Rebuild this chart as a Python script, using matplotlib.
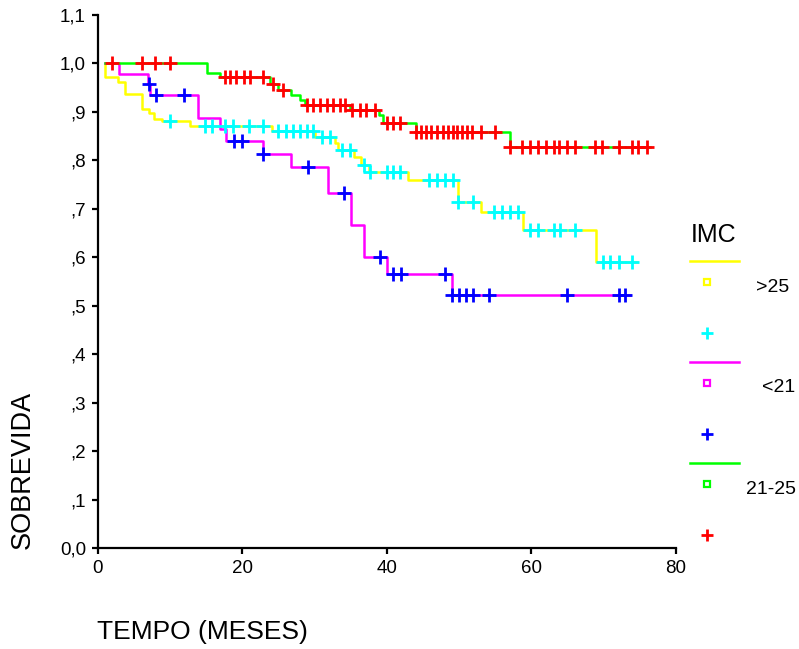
import matplotlib
matplotlib.use("Agg")
import matplotlib.pyplot as plt
import numpy as np

plt.rcParams['font.family'] = ['Liberation Sans', 'DejaVu Sans']

# IMC > 25 : event times / survival after each event, censored times
gt25_event_t = [1.0, 2.8, 3.8, 6.1, 7.1, 7.8, 8.9, 12.8, 24.1, 30.1, 32.8, 33.3,
                35.5, 36.5, 37.5, 43.0, 49.9, 53.0, 58.8, 69.0]
gt25_event_s = [0.973, 0.961, 0.936, 0.907, 0.898, 0.886, 0.882, 0.871, 0.861, 0.849,
                0.835, 0.821, 0.806, 0.790, 0.775, 0.760, 0.715, 0.694, 0.656, 0.591]
gt25_censor = [10.0, 14.9, 15.8, 17.6, 18.7, 21.0, 22.9, 25.0, 26.1, 27.0, 28.0, 29.0,
               29.8, 31.0, 32.2, 33.8, 34.9, 36.8, 37.7, 40.0, 40.9, 41.8, 45.8, 46.9,
               48.1, 49.2, 49.9, 52.0, 54.8, 55.9, 57.1, 58.2, 59.8, 61.0, 63.1, 64.0,
               66.1, 70.0, 70.9, 72.1, 73.9]
gt25_span = (1.0, 74.6)

# IMC < 21
lt21_event_t = [2.9, 7.0, 7.3, 13.9, 16.9, 17.8, 22.9, 26.8, 31.9, 35.1, 36.9, 40.1, 49.1]
lt21_event_s = [0.978, 0.957, 0.935, 0.887, 0.865, 0.839, 0.813, 0.786, 0.732, 0.667,
                0.601, 0.566, 0.522]
lt21_censor = [7.1, 8.0, 11.9, 18.9, 20.0, 22.9, 29.1, 34.1, 39.1, 40.9, 42.0, 48.1,
               49.1, 50.0, 51.0, 51.9, 54.2, 65.0, 72.1, 73.0]
lt21_span = (1.0, 73.7)

# IMC 21-25
mid_event_t = [15.1, 16.9, 23.8, 25.0, 26.8, 28.0, 28.7, 34.9, 39.0, 39.5, 44.1, 57.1]
mid_event_s = [0.981, 0.973, 0.957, 0.945, 0.935, 0.925, 0.914, 0.904, 0.894, 0.877,
               0.859, 0.828]
mid_censor = [2.0, 6.1, 7.9, 10.0, 17.6, 18.3, 19.2, 20.2, 21.1, 22.9, 24.2, 25.6,
              28.9, 29.8, 30.8, 31.7, 32.6, 33.5, 34.2, 35.2, 36.3, 37.2, 38.4, 40.0,
              40.9, 41.8, 44.1, 44.8, 45.5, 46.2, 46.9, 47.8, 48.5, 49.2, 49.7, 50.4,
              51.1, 51.8, 53.1, 55.0, 57.1, 58.7, 59.9, 61.0, 62.1, 63.1, 63.9, 64.9,
              66.1, 68.8, 69.8, 72.1, 73.9, 74.8, 76.0]
mid_span = (1.0, 76.5)

group_labels = ['>25', '<21', '21-25']
line_colors = ['#ffff00', '#ff00ff', '#00ff00']
mark_colors = ['#00ffff', '#0000ff', '#ff0000']

y_ticks = [0.0, 0.1, 0.2, 0.3, 0.4, 0.5, 0.6, 0.7, 0.8, 0.9, 1.0, 1.1]
y_ticklabels = ['0,0', ',1', ',2', ',3', ',4', ',5', ',6', ',7', ',8', ',9', '1,0', '1,1']
x_ticks = [0, 20, 40, 60, 80]


def surv_at(t, ev_t, ev_s):
    idx = np.searchsorted(ev_t, t, side='right') - 1
    return 1.0 if idx < 0 else ev_s[idx]


W, H = 799, 649
fig = plt.figure(figsize=(W / 100, H / 100), dpi=100)
ax = fig.add_axes([97.7 / W, 1 - 548 / H, (675.7 - 97.7) / W, (548 - 15) / H])

groups = [
    (gt25_event_t, gt25_event_s, gt25_censor, gt25_span),
    (lt21_event_t, lt21_event_s, lt21_censor, lt21_span),
    (mid_event_t, mid_event_s, mid_censor, mid_span),
]

for i, (ev_t, ev_s, cens, span) in enumerate(groups):
    xs = [span[0]] + ev_t + [span[1]]
    ys = [1.0] + ev_s + [ev_s[-1]]
    ax.plot(xs, ys, drawstyle='steps-post', color=line_colors[i], lw=1.8, zorder=2)
for i, (ev_t, ev_s, cens, span) in enumerate(groups):
    cy = [surv_at(t, ev_t, ev_s) for t in cens]
    ax.plot(cens, cy, ls='none', marker='+', ms=10, mew=2, color=mark_colors[i], zorder=3)

ax.set_xlim(0, 80)
ax.set_ylim(0, 1.1)
ax.set_xticks(x_ticks)
ax.set_yticks(y_ticks)
ax.set_yticklabels(y_ticklabels)
for s in ['top', 'right']:
    ax.spines[s].set_visible(False)
for s in ['left', 'bottom']:
    ax.spines[s].set_linewidth(1.6)
ax.tick_params(direction='out', length=4.5, width=1.6, labelsize=13.5, pad=4)

# legend and axis titles, drawn in pixel coordinates
lg = fig.add_axes([0, 0, 1, 1], facecolor='none')
lg.set_xlim(0, W)
lg.set_ylim(H, 0)
lg.axis('off')

lg.text(714, 235, 'IMC', fontsize=18, ha='center', va='center')
line_y = [261, 362, 463]
text_x = [756, 762, 746]
for i in range(3):
    y0 = line_y[i]
    lg.plot([690, 739], [y0, y0], color=line_colors[i], lw=1.8)
    lg.plot([707], [y0 + 21], ls='none', marker='s', ms=4.5, mfc='none',
            mec=line_colors[i], mew=1.6)
    lg.text(text_x[i], y0 + 26, group_labels[i], fontsize=14, ha='left', va='center')
    lg.plot([707], [y0 + 72], ls='none', marker='+', ms=9, mew=2, color=mark_colors[i])

lg.text(97, 632, 'TEMPO (MESES)', fontsize=19, ha='left', va='center')
lg.text(23, 470, 'SOBREVIDA', fontsize=19.5, ha='center', va='center', rotation=90)

fig.savefig('out.png', dpi=100)
